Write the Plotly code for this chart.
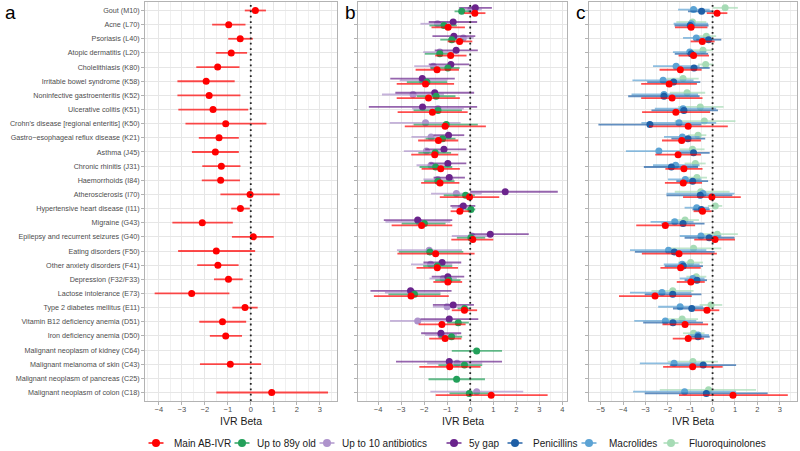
import plotly.graph_objects as go

# ---------------------------------------------------------------------------
#  data
# ---------------------------------------------------------------------------
diseases = [
    "Gout (M10)", "Acne (L70)", "Psoriasis (L40)", "Atopic dermatitis (L20)",
    "Cholelithiasis (K80)", "Irritable bowel syndrome (K58)",
    "Noninfective gastroenteritis (K52)", "Ulcerative colitis (K51)",
    "Crohn's disease [regional enteritis] (K50)",
    "Gastro\u2212esophageal reflux disease (K21)", "Asthma (J45)",
    "Chronic rhinitis (J31)", "Haemorrhoids (I84)", "Atherosclerosis (I70)",
    "Hypertensive heart disease (I11)", "Migraine (G43)",
    "Epilepsy and recurrent seizures (G40)", "Eating disorders (F50)",
    "Other anxiety disorders (F41)", "Depression (F32/F33)",
    "Lactose intolerance (E73)", "Type 2 diabetes mellitus (E11)",
    "Vitamin B12 deficiency anemia (D51)", "Iron deficiency anemia (D50)",
    "Malignant neoplasm of kidney (C64)", "Malignant melanoma of skin (C43)",
    "Malignant neoplasm of pancreas (C25)", "Malignant neoplasm of colon (C18)",
]

# Main AB-IVR
main_beta = [0.20, -0.96, -0.46, -0.85, -1.44, -1.94, -1.81, -1.64, -1.09, -1.38, -1.54, -1.28, -1.31, -0.03,
             -0.45, -2.11, 0.11, -1.50, -1.43, -0.97, -2.57, -0.25, -1.23, -1.09, None, -0.89, None, 0.91]
main_lo = [-0.26, -1.68, -0.98, -1.52, -2.37, -3.19, -3.19, -3.15, -2.84, -2.26, -2.56, -2.11, -2.13, -1.32,
           -0.85, -3.41, -0.82, -3.16, -2.33, -1.60, -4.18, -0.80, -2.24, -1.78, None, -2.21, None, -1.50]
main_hi = [0.66, -0.23, 0.09, -0.16, -0.49, -0.70, -0.45, -0.11, 0.68, -0.52, -0.52, -0.45, -0.47, 1.26,
           -0.04, -0.78, 1.00, 0.19, -0.53, -0.35, -0.93, 0.30, -0.20, -0.38, None, 0.45, None, 3.36]

# Up to 89y old
age89_beta = [-0.37, -1.14, -0.80, -1.32, -0.97, -1.88, -1.48, -1.40, -1.04, -1.20, -1.52, -1.50, -1.40, -0.20,
              0.03, -1.99, 0.03, -1.75, -1.43, -0.93, -2.42, -0.25, -0.52, -0.81, 0.28, -0.25, -0.59, -0.04]
age89_lo = [-0.68, -1.77, -1.30, -1.97, -1.72, -2.75, -2.32, -2.46, -2.46, -1.94, -2.25, -2.20, -2.00, -1.15,
            -0.22, -2.97, -0.58, -3.10, -2.04, -1.52, -3.55, -0.55, -1.00, -1.36, -0.80, -1.38, -1.81, -0.90]
age89_hi = [0.03, -0.58, -0.29, -0.72, -0.46, -1.00, -0.64, -0.36, 0.33, -0.64, -0.83, -0.78, -0.68, 0.20,
            0.22, -1.07, 0.65, -0.30, -0.78, -0.42, -1.29, 0.03, -0.06, -0.35, 1.38, 0.52, 0.64, 0.80]

# Up to 10 antibiotics
abx10_beta = [0.03, -1.42, -0.30, -1.32, -1.60, -2.09, -2.48, -1.40, -1.94, -1.70, -1.90, -1.70, -1.41, -0.60,
              -0.39, -2.23, 0.07, -1.78, -1.72, -1.17, -2.52, -1.00, -2.28, -1.27, None, -0.57, None, 0.28]
abx10_lo = [-0.45, -2.16, -0.86, -2.04, -2.43, -3.06, -3.83, -2.52, -3.50, -2.55, -2.88, -2.33, -2.03, -1.70,
            -0.80, -3.68, -0.80, -3.18, -2.57, -1.77, -3.70, -1.62, -3.48, -1.96, None, -1.87, None, -1.73]
abx10_hi = [0.50, -0.86, 0.15, -0.64, -0.86, -1.00, -1.14, -0.28, -0.42, -0.86, -1.00, -0.86, -0.71, 0.50,
            0.12, -0.86, 0.99, -0.36, -0.78, -0.58, -1.29, -0.39, -1.00, -0.58, None, 0.52, None, 2.30]

# 5y gap
gap5_beta = [0.22, -0.74, -0.71, -0.61, -0.84, -2.08, -1.54, -2.07, None, -0.94, -1.14, -0.97, -0.91, 1.52,
             -0.30, -2.28, 0.87, None, -1.22, -0.97, -2.59, -0.74, -0.91, -1.27, None, -0.91, None, None]
gap5_lo = [-0.48, -1.80, -1.64, -1.54, -1.80, -3.47, -3.25, -4.40, None, -1.59, -1.95, -1.77, -1.59, 0.00,
           -0.86, -3.75, 0.00, None, -2.03, -1.67, -4.33, -1.62, -2.16, -2.13, None, -3.22, None, None]
gap5_hi = [0.94, 0.30, 0.22, 0.33, -0.04, -0.67, 0.17, 0.30, None, -0.26, -0.17, -0.17, -0.23, 3.80,
           0.22, -0.78, 2.54, None, -0.39, -0.26, -0.81, 0.16, 0.35, -0.39, None, 1.38, None, None]

# Penicillins
pen_beta = [-0.49, -1.00, -0.18, -0.95, -0.83, -1.74, -2.17, -1.28, -2.80, -1.10, -0.85, -1.84, -0.89, -0.55,
            -0.50, -1.32, -0.15, -1.71, -1.31, -0.70, -1.78, -0.93, -1.77, -0.65, None, -0.42, None, -0.28]
pen_lo = [-1.10, -1.70, -0.73, -1.69, -1.47, -2.92, -3.77, -2.73, -5.10, -1.84, -1.62, -3.07, -1.62, -2.06,
          -0.90, -2.28, -1.25, -3.47, -2.14, -1.25, -3.03, -1.77, -3.10, -1.10, None, -1.91, None, -3.03]
pen_hi = [0.01, -0.18, 0.39, -0.20, -0.13, -0.55, -0.58, 0.24, -0.50, -0.33, -0.13, -0.65, -0.20, 0.88,
          -0.13, -0.36, 0.98, 0.09, -0.43, -0.25, -0.50, -0.13, -0.43, -0.13, None, 1.05, None, 2.46]

# Macrolides
mac_beta = [-0.85, -0.95, -0.73, -1.02, -1.63, -2.21, -2.17, -1.32, -1.50, -1.35, -2.40, -1.65, -1.22, -0.43,
            -0.71, -1.69, -0.52, -1.97, -1.36, -0.88, -2.26, -1.45, -2.11, -0.65, None, -1.72, None, -1.25]
mac_lo = [-1.54, -1.74, -1.32, -1.77, -2.66, -3.58, -3.62, -2.58, -3.18, -2.17, -3.87, -2.66, -1.99, -2.06,
          -1.25, -2.77, -1.47, -3.69, -2.18, -1.47, -3.69, -2.43, -3.50, -1.10, None, -3.25, None, -3.55]
mac_hi = [-0.13, -0.20, -0.13, -0.28, -0.58, -0.85, -0.65, 0.16, 0.16, -0.58, -0.88, -0.58, -0.50, 0.98,
          -0.16, -0.85, 0.39, -0.28, -0.58, -0.36, -0.95, -0.43, -0.73, -0.16, None, -0.43, None, 1.05]

# Fluoroquinolones
fq_beta = [0.56, -0.90, -0.28, -0.43, -0.31, -1.32, -1.14, -0.55, -0.37, -0.65, -0.90, -0.77, -0.70, -0.53,
           0.12, -1.23, 0.21, -0.85, -0.98, -0.73, -1.78, -0.07, -1.36, -0.85, None, -0.88, None, -0.18]
fq_lo = [0.01, -1.62, -0.73, -0.95, -0.65, -2.06, -1.91, -1.54, -1.69, -1.10, -1.47, -1.25, -1.17, -1.69,
         -0.21, -1.84, -0.65, -2.06, -1.54, -1.17, -2.73, -0.58, -2.06, -1.32, None, -1.99, None, -2.36]
fq_hi = [1.13, -0.28, 0.16, 0.01, 0.04, -0.62, -0.33, 0.49, 1.02, -0.28, -0.36, -0.31, -0.25, 0.76,
         0.43, -0.61, 1.13, 0.39, -0.43, -0.28, -0.85, 0.43, -0.65, -0.36, None, 0.24, None, 1.94]

legend_names = ["Main AB-IVR", "Up to 89y old", "Up to 10 antibiotics", "5y gap",
                "Penicillins", "Macrolides", "Fluoroquinolones"]

# ---------------------------------------------------------------------------
#  styling
# ---------------------------------------------------------------------------
W, H = 800, 451
FONT = "Liberation Sans, Arial, sans-serif"
COL = {
    "Main AB-IVR": "#ff0000",
    "Up to 89y old": "#23a05a",
    "Up to 10 antibiotics": "#ae93cc",
    "5y gap": "#6a238c",
    "Penicillins": "#1f5fa6",
    "Macrolides": "#5ca3d4",
    "Fluoroquinolones": "#a6dbb5",
}


def rgba(hex_col, a):
    h = hex_col.lstrip("#")
    r, g, b = int(h[0:2], 16), int(h[2:4], 16), int(h[4:6], 16)
    return f"rgba({r},{g},{b},{a})"


def ci_trace(name, beta, lo, hi, offset, xa, ya):
    # keep rows that have an estimate; offset = dodge (positive = drawn higher)
    idx = [i for i, b in enumerate(beta) if b is not None]
    return go.Scatter(
        x=[beta[i] for i in idx], y=[i - offset for i in idx],
        mode="markers", name=name, showlegend=False,
        marker=dict(color=COL[name], size=7, line=dict(width=0)),
        error_x=dict(type="data", symmetric=False,
                     array=[hi[i] - beta[i] for i in idx],
                     arrayminus=[beta[i] - lo[i] for i in idx],
                     color=rgba(COL[name], 0.7), thickness=1.8, width=0),
        xaxis=xa, yaxis=ya, hoverinfo="skip",
    )


fig = go.Figure()

# panel a
fig.add_trace(ci_trace("Main AB-IVR", main_beta, main_lo, main_hi, 0, "x", "y"))

# panel b  (top -> bottom: 5y gap, 10 abx, 89y, main)
d1, d2 = 0.1875, 0.0625
fig.add_trace(ci_trace("Up to 10 antibiotics", abx10_beta, abx10_lo, abx10_hi, d2, "x2", "y2"))
fig.add_trace(ci_trace("5y gap", gap5_beta, gap5_lo, gap5_hi, d1, "x2", "y2"))
fig.add_trace(ci_trace("Up to 89y old", age89_beta, age89_lo, age89_hi, -d2, "x2", "y2"))
fig.add_trace(ci_trace("Main AB-IVR", main_beta, main_lo, main_hi, -d1, "x2", "y2"))

# panel c  (top -> bottom: FQ, macrolides, penicillins, main)
fig.add_trace(ci_trace("Fluoroquinolones", fq_beta, fq_lo, fq_hi, d1, "x3", "y3"))
fig.add_trace(ci_trace("Macrolides", mac_beta, mac_lo, mac_hi, d2, "x3", "y3"))
fig.add_trace(ci_trace("Penicillins", pen_beta, pen_lo, pen_hi, -d2, "x3", "y3"))
fig.add_trace(ci_trace("Main AB-IVR", main_beta, main_lo, main_hi, -d1, "x3", "y3"))

# ---------------------------------------------------------------------------
#  axes
# ---------------------------------------------------------------------------
ydom = [50 / H, 449 / H]
panels = {
    "": ([145 / W, 337 / W], [-4.6, 3.75]),
    "2": ([358 / W, 567 / W], [-4.87, 4.2]),
    "3": ([589 / W, 797 / W], [-5.52, 3.77]),
}
axis_style = dict(
    showline=True, mirror=True, linecolor="#b3b3b3", linewidth=1,
    ticks="outside", ticklen=3, tickcolor="#b3b3b3", tickwidth=1,
    gridcolor="#e6e6e6", gridwidth=1, zeroline=False,
)
lay = {}
for k, (dom, rng) in panels.items():
    lay["xaxis" + k] = dict(
        domain=dom, range=rng, dtick=1, tick0=0, anchor="y" + k,
        ticklabelstandoff=-2,
        tickfont=dict(family=FONT, size=7.5, color="#4d4d4d"),
        minor=dict(dtick=0.5, tick0=0, showgrid=True, gridcolor="#f0f0f0",
                   gridwidth=0.6, ticks=""),
        **axis_style,
    )
    lay["yaxis" + k] = dict(
        domain=ydom, range=[27.6, -0.6], anchor="x" + k,
        tickmode="array", tickvals=list(range(len(diseases))),
        ticktext=diseases, showticklabels=(k == ""),
        tickfont=dict(family=FONT, size=7.2, color="#4d4d4d"),
        **axis_style,
    )
fig.update_layout(**lay)

# dotted zero lines
for k in ["", "2", "3"]:
    fig.add_shape(type="line", xref="x" + k, yref=("y" + k) + " domain",
                  x0=0, x1=0, y0=0, y1=1,
                  line=dict(color="#222222", width=1.8, dash="1.8px,3.6px"))

# axis titles + panel letters
for dom, _ in panels.values():
    fig.add_annotation(text="IVR Beta", xref="paper", yref="paper",
                       x=(dom[0] + dom[1]) / 2, y=(H - 421) / H,
                       xanchor="center", yanchor="middle", showarrow=False,
                       font=dict(family=FONT, size=10.5, color="#1a1a1a"))
for letter, xpx in [("a", 3), ("b", 343), ("c", 574)]:
    fig.add_annotation(text=letter, xref="paper", yref="paper",
                       x=xpx / W, y=1.0, xanchor="left", yanchor="top",
                       showarrow=False,
                       font=dict(family=FONT, size=19, color="#000000"))

# ---------------------------------------------------------------------------
#  legend (ggplot-style compact keys)
# ---------------------------------------------------------------------------
key_x = [156, 242, 327, 454, 515, 589, 671]
text_x = [172, 255, 340, 467, 531, 607, 687]
ly = (H - 443) / H
for name, kx, tx in zip(legend_names, key_x, text_x):
    fig.add_shape(type="line", xref="paper", yref="paper",
                  x0=(kx - 7.5) / W, x1=(kx + 7.5) / W, y0=ly, y1=ly,
                  line=dict(color=rgba(COL[name], 0.8), width=1.8))
    fig.add_shape(type="circle", xref="paper", yref="paper",
                  xsizemode="pixel", ysizemode="pixel",
                  xanchor=kx / W, yanchor=ly, x0=-4, x1=4, y0=-4, y1=4,
                  fillcolor=COL[name], line=dict(width=0))
    fig.add_annotation(text=name, xref="paper", yref="paper",
                       x=tx / W, y=ly, xanchor="left", yanchor="middle",
                       showarrow=False,
                       font=dict(family=FONT, size=10, color="#1a1a1a"))

fig.update_layout(
    width=W, height=H,
    margin=dict(l=0, r=0, t=0, b=0),
    paper_bgcolor="white", plot_bgcolor="white",
    showlegend=False,
)

# page body margin would push the 800x451 figure off the window
fig.write_html(
    "out.html",
    config={"displayModeBar": False},
    post_script="document.body.style.margin='0';document.body.style.overflow='hidden';",
)
